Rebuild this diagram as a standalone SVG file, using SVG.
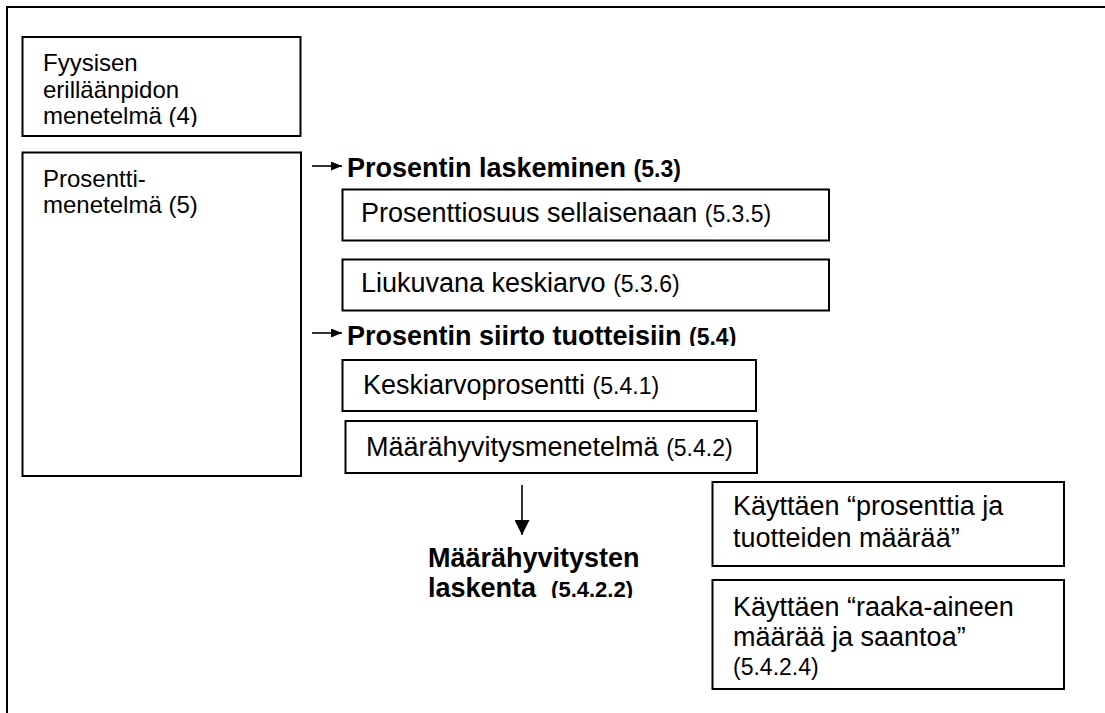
<svg xmlns="http://www.w3.org/2000/svg" width="1105" height="713" viewBox="0 0 1105 713">
  <style>
    .box { fill: #ffffff; stroke: #000000; stroke-width: 2; }
    .frame { fill: none; stroke: #000000; stroke-width: 2; }
    .t { font-family: "Liberation Sans", Arial, sans-serif; font-size: 27px; fill: #000000; }
    .s { font-size: 24px; }
    .b { font-family: "Liberation Sans", Arial, sans-serif; font-size: 27px; font-weight: bold; fill: #000000; }
    .n { font-size: 23px; }
    .link { fill: none; stroke: #000000; stroke-width: 1.6; }
  </style>
  <defs>
    <marker id="head" viewBox="0 0 11 9" refX="11" refY="4.5" markerWidth="11" markerHeight="9" markerUnits="userSpaceOnUse" orient="auto">
      <path d="M0,0 L11,4.5 L0,9 Z" fill="#000000"/>
    </marker>
    <marker id="head-lg" viewBox="0 0 15 15" refX="15" refY="7.5" markerWidth="15" markerHeight="15" markerUnits="userSpaceOnUse" orient="auto">
      <path d="M0,0 L15,7.5 L0,15 Z" fill="#000000"/>
    </marker>
    <clipPath id="clip-box1"><rect x="22" y="37" width="280" height="90"/></clipPath>
    <clipPath id="clip-h2"><rect x="340" y="310" width="420" height="36"/></clipPath>
    <clipPath id="clip-calc"><rect x="400" y="540" width="260" height="58"/></clipPath>
  </defs>

  <rect id="bg" x="0" y="0" width="1105" height="713" fill="#ffffff"/>

  <!-- outer frame, continuing past the right and bottom edges -->
  <path class="frame" d="M7,713 V7 H1105"/>

  <g id="physical">
    <rect class="box" x="22.5" y="37" width="278" height="99"/>
    <g clip-path="url(#clip-box1)">
      <text class="t s" x="43" y="71">Fyysisen</text>
      <text class="t s" x="43" y="98">erilläänpidon</text>
      <text class="t s" x="43" y="124">menetelmä (4)</text>
    </g>
  </g>

  <g id="percentage">
    <rect class="box" x="22.5" y="152.5" width="278.5" height="323.5"/>
    <text class="t s" x="43" y="187">Prosentti-</text>
    <text class="t s" x="43" y="213">menetelmä (5)</text>
  </g>

  <g id="calc-heading">
    <text class="b" x="347" y="177">Prosentin laskeminen <tspan class="n">(5.3)</tspan></text>
  </g>

  <g id="as-such">
    <rect class="box" x="342.5" y="189.5" width="486.5" height="51"/>
    <text class="t" x="361" y="222">Prosenttiosuus sellaisenaan <tspan class="n">(5.3.5)</tspan></text>
  </g>

  <g id="moving-average">
    <rect class="box" x="342.5" y="259.5" width="486.5" height="51"/>
    <text class="t" x="361" y="292">Liukuvana keskiarvo <tspan class="n">(5.3.6)</tspan></text>
  </g>

  <g id="transfer-heading" clip-path="url(#clip-h2)">
    <text class="b" x="347" y="345">Prosentin siirto tuotteisiin <tspan class="n">(5.4)</tspan></text>
  </g>

  <g id="average-percentage">
    <rect class="box" x="342.5" y="360" width="413.5" height="51"/>
    <text class="t" x="363" y="394">Keskiarvoprosentti <tspan class="n">(5.4.1)</tspan></text>
  </g>

  <g id="quota-method">
    <rect class="box" x="345.5" y="421" width="411.5" height="52"/>
    <text class="t" x="366" y="456">Määrähyvitysmenetelmä <tspan class="n">(5.4.2)</tspan></text>
  </g>

  <g id="quota-calc" clip-path="url(#clip-calc)">
    <text class="b" x="428" y="567" font-size="25.5">Määrähyvitysten</text>
    <text class="b" x="428" y="597" font-size="26" xml:space="preserve">laskenta  <tspan font-size="22">(5.4.2.2)</tspan></text>
  </g>

  <g id="by-products">
    <rect class="box" x="712.5" y="482" width="351.5" height="84"/>
    <text class="t" x="733" y="515" font-size="26.5">Käyttäen “prosenttia ja</text>
    <text class="t" x="733" y="547" font-size="26.5">tuotteiden määrää”</text>
  </g>

  <g id="by-raw-material">
    <rect class="box" x="712.5" y="580" width="351.5" height="109"/>
    <text class="t" x="733" y="616" font-size="26.5">Käyttäen “raaka-aineen</text>
    <text class="t" x="733" y="646" font-size="26.5">määrää ja saantoa”</text>
    <text class="t n" x="733" y="675">(5.4.2.4)</text>
  </g>

  <g id="connectors">
    <line class="link" x1="312" y1="166" x2="342" y2="166" marker-end="url(#head)"/>
    <line class="link" x1="312" y1="333" x2="342" y2="333" marker-end="url(#head)"/>
    <line class="link" x1="522" y1="485" x2="522" y2="535" marker-end="url(#head-lg)"/>
  </g>
</svg>
